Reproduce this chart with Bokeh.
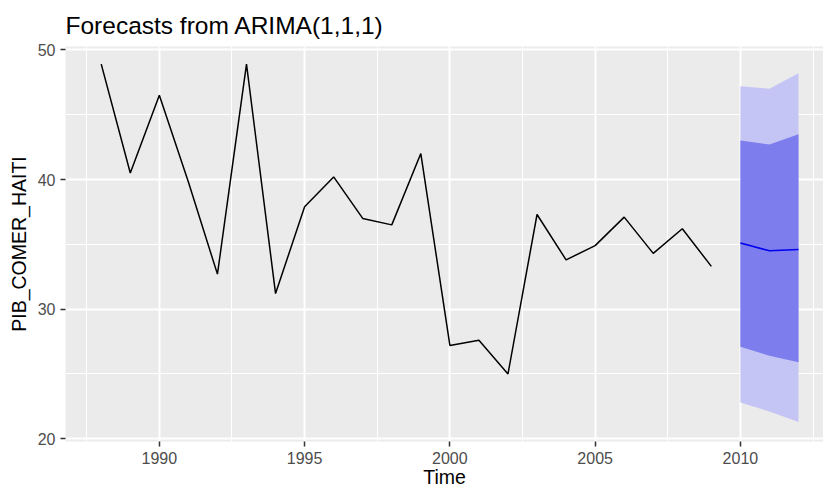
from bokeh.plotting import figure
from bokeh.models import Range1d, FixedTicker
from bokeh.embed import file_html
from bokeh.resources import INLINE

years = [1988, 1989, 1990, 1991, 1992, 1993, 1994, 1995, 1996, 1997, 1998,
         1999, 2000, 2001, 2002, 2003, 2004, 2005, 2006, 2007, 2008, 2009]
values = [48.9, 40.5, 46.5, 39.8, 32.7, 48.9, 31.2, 37.9, 40.2, 37.0, 36.5,
          42.0, 27.2, 27.6, 25.0, 37.3, 33.8, 34.9, 37.1, 34.3, 36.2, 33.3]

fc_years = [2010, 2011, 2012]
fc_mean = [35.1, 34.5, 34.6]
lo80 = [27.1, 26.4, 25.9]
hi80 = [43.0, 42.7, 43.5]
lo95 = [22.8, 22.1, 21.3]
hi95 = [47.2, 47.0, 48.2]

x_ticks = [1990, 1995, 2000, 2005, 2010]
x_minor = [1987.5, 1992.5, 1997.5, 2002.5, 2007.5, 2012.5]
y_ticks = [20, 30, 40, 50]
y_minor = [25, 35, 45]

FONT = "Liberation Sans"

p = figure(width=823, height=490, output_backend="svg", toolbar_location=None,
           x_range=Range1d(1986.77, 2012.86), y_range=Range1d(19.79, 50.26),
           min_border_left=65, min_border_right=0, min_border_top=46,
           min_border_bottom=49, title="Forecasts from ARIMA(1,1,1)")

p.background_fill_color = "#EBEBEB"
p.border_fill_color = "white"
p.outline_line_color = None

p.title.text_font = FONT
p.title.text_font_size = "24.5px"
p.title.text_font_style = "normal"
p.title.text_color = "black"
p.title.align = "left"
p.title.offset = 0
p.title.vertical_align = "top"
p.title.standoff = 12

p.xaxis.ticker = FixedTicker(ticks=x_ticks, minor_ticks=x_minor)
p.yaxis.ticker = FixedTicker(ticks=y_ticks, minor_ticks=y_minor)

for ax in (p.xaxis[0], p.yaxis[0]):
    ax.axis_line_color = None
    ax.major_tick_line_color = "#333333"
    ax.major_tick_line_width = 1.5
    ax.major_tick_out = 5
    ax.major_tick_in = 0
    ax.minor_tick_line_color = None
    ax.major_label_text_font = FONT
    ax.major_label_text_font_size = "16px"
    ax.major_label_text_color = "#4D4D4D"
    ax.axis_label_text_font = FONT
    ax.axis_label_text_font_size = "19.5px"
    ax.axis_label_text_font_style = "normal"
    ax.axis_label_text_color = "black"

p.xaxis.axis_label = "Time"
p.xaxis.major_label_standoff = 5
p.xaxis.axis_label_standoff = -1
p.yaxis.axis_label = "PIB_COMER_HAITI"
p.yaxis.major_label_standoff = 5
p.yaxis.axis_label_standoff = 5

p.grid.grid_line_color = "white"
p.grid.grid_line_width = 1.9
p.grid.minor_grid_line_color = "white"
p.grid.minor_grid_line_width = 1.0

p.varea(x=fc_years, y1=lo95, y2=hi95, fill_color="#C4C4F5", fill_alpha=1.0)
p.varea(x=fc_years, y1=lo80, y2=hi80, fill_color="#7D7DEE", fill_alpha=1.0)
p.line(fc_years, fc_mean, line_color="#0000EE", line_width=1.6)

p.line(years, values, line_color="black", line_width=1.5)

open("out.html", "w").write(file_html(p, INLINE))
